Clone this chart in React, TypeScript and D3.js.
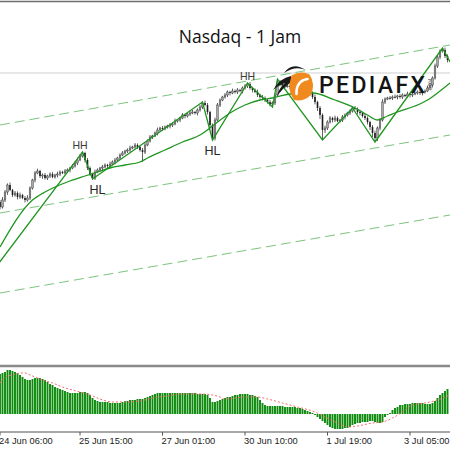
import React from 'react';
import * as d3 from 'd3';

const W = 450;
const H = 450;

// ---- price data (Nasdaq, 1 hour bars) ----
const firstOpen = 21990;
const closes = [
  21965, 22000, 22040, 22075, 22050, 22025, 22035, 22015, 22025, 22010,
  22000, 22010, 22060, 22100, 22135, 22145, 22120, 22125, 22110, 22120,
  22130, 22115, 22125, 22130, 22140, 22135, 22145, 22150, 22160, 22170,
  22185, 22200, 22220, 22235, 22200, 22160, 22130, 22110, 22140, 22150,
  22160, 22165, 22175, 22170, 22180, 22190, 22200, 22210, 22225, 22235,
  22245, 22250, 22260, 22265, 22275, 22265, 22250, 22240, 22275, 22295,
  22315, 22320, 22335, 22350, 22360, 22355, 22365, 22370, 22375, 22380,
  22395, 22400, 22410, 22425, 22420, 22430, 22435, 22440, 22435, 22450,
  22465, 22485, 22475, 22440, 22375, 22310, 22400, 22475, 22500, 22515,
  22525, 22540, 22535, 22545, 22540, 22550, 22545, 22560, 22570, 22580,
  22560, 22550, 22540, 22525, 22515, 22510, 22500, 22490, 22480, 22485,
  22525, 22590, 22580, 22575, 22570, 22570, 22565, 22560, 22565, 22555,
  22550, 22550, 22545, 22540, 22535, 22515, 22490, 22460, 22425, 22350,
  22360, 22390, 22410, 22400, 22410, 22395, 22400, 22415, 22425, 22435,
  22445, 22460, 22455, 22440, 22435, 22420, 22410, 22390, 22365, 22335,
  22310, 22360, 22400, 22490, 22505, 22510, 22510, 22515, 22515, 22520,
  22515, 22525, 22520, 22530, 22525, 22530, 22535, 22540, 22535, 22540,
  22545, 22560, 22575, 22610, 22670, 22715, 22745, 22750, 22720, 22700,
];
const wickUp = [
  10, 15, 10, 8, 12, 6, 10, 8, 12, 6, 10, 14, 8, 6, 10, 12, 6, 8, 10, 6,
  8, 10, 6, 12, 8, 6, 10, 8, 6, 10, 8, 12, 10, 8, 6, 10, 8, 6, 12, 8,
  6, 10, 8, 6, 12, 8, 10, 6, 8, 10, 6, 8, 12, 6, 10, 8, 6, 10, 12, 8,
  10, 6, 8, 12, 6, 10, 8, 6, 10, 8, 12, 6, 8, 10, 6, 8, 12, 10, 6, 8,
  10, 8, 12, 10, 6, 8, 12, 10, 8, 6, 10, 8, 6, 12, 8, 10, 6, 8, 10, 8,
  10, 6, 8, 12, 6, 10, 8, 6, 10, 8, 10, 15, 8, 10, 6, 8, 12, 6, 10, 8,
  6, 10, 8, 6, 10, 8, 12, 6, 10, 8, 12, 8, 10, 6, 12, 8, 6, 10, 8, 6,
  8, 6, 10, 8, 12, 6, 10, 8, 6, 10, 12, 8, 10, 14, 8, 6, 10, 8, 12, 6,
  10, 8, 6, 12, 8, 10, 6, 8, 10, 6, 8, 12, 10, 8, 12, 10, 8, 10, 12, 8,
];
const wickDn = [
  12, 8, 10, 14, 6, 10, 8, 12, 10, 6, 12, 8, 10, 8, 12, 6, 10, 14, 8, 10,
  10, 6, 8, 12, 10, 6, 8, 10, 12, 6, 8, 10, 6, 8, 12, 10, 8, 8, 10, 6,
  8, 12, 6, 10, 8, 6, 12, 8, 10, 6, 8, 10, 12, 6, 8, 10, 8, 50, 10, 6,
  8, 10, 6, 12, 8, 10, 6, 8, 12, 10, 6, 8, 10, 6, 12, 8, 10, 6, 8, 12,
  8, 10, 6, 12, 15, 10, 12, 8, 10, 6, 8, 10, 12, 6, 8, 10, 6, 12, 8, 10,
  8, 12, 6, 10, 8, 12, 10, 8, 12, 20, 10, 8, 12, 6, 10, 8, 10, 6, 12, 8,
  10, 8, 6, 12, 8, 10, 12, 15, 20, 50, 15, 10, 8, 12, 10, 6, 8, 10, 12, 8,
  10, 8, 6, 10, 12, 8, 10, 12, 15, 20, 20, 15, 12, 8, 10, 6, 8, 10, 6, 12,
  8, 10, 6, 8, 12, 10, 6, 8, 10, 12, 8, 6, 10, 12, 8, 10, 12, 8, 10, 12,
];

// ZigZag pivots (bar index, price)
const zzIdx = [-4, 33, 37, 81, 85, 99, 109, 111, 129, 141, 150, 177, 180];
const zzVal = [21625, 22240, 22105, 22490, 22300, 22585, 22465, 22605, 22300, 22460, 22290, 22760, 22690];

// Moving average (bar index, price)
const maIdx = [0, 13, 18, 22, 28, 34, 39, 44, 50, 56, 59, 66, 73, 80, 85, 92, 98, 104, 109, 116, 125, 134, 142, 147, 151, 155, 159, 166, 171, 175, 180];
const maVal = [21765, 22000, 22040, 22065, 22095, 22120, 22140, 22160, 22175, 22190, 22210, 22250, 22290, 22325, 22370, 22435, 22475, 22500, 22510, 22530, 22535, 22500, 22460, 22425, 22400, 22420, 22440, 22470, 22500, 22535, 22585];

// Channel lines (start / end bar index, prices)
const channelIdx = [0, 180];
const channelTop = [22375, 22775];
const channelMid = [21935, 22325];
const channelBot = [21535, 21925];
const hLinePrice = 22635;

// Swing labels
const swingText = ['HH', 'HL', 'HL', 'HH'];
const swingIdx = [32, 39, 85, 99];
const swingVal = [22240, 22105, 22300, 22585];
const swingAbove = [true, false, false, true];

// Oscillator histogram
const hist = [
  80, 82, 84, 88, 88, 86, 84, 82, 78, 74, 70, 68, 68, 70, 72, 72, 72, 70, 68, 64,
  60, 58, 54, 52, 50, 48, 46, 44, 42, 42, 42, 42, 44, 44, 44, 42, 38, 32, 28, 26,
  24, 24, 24, 24, 22, 22, 22, 22, 22, 24, 26, 26, 28, 28, 28, 30, 30, 30, 32, 34,
  36, 38, 40, 42, 42, 42, 42, 42, 42, 42, 42, 42, 42, 42, 42, 42, 42, 42, 42, 40,
  40, 40, 40, 38, 32, 24, 24, 26, 28, 30, 32, 34, 34, 36, 38, 38, 40, 40, 40, 40,
  38, 38, 36, 34, 28, 22, 18, 16, 16, 16, 16, 16, 16, 16, 14, 14, 14, 14, 14, 12,
  12, 10, 8, 6, 4, 2, -2, -6, -10, -14, -18, -22, -26, -28, -30, -30, -30, -30, -28, -28,
  -26, -22, -20, -18, -18, -16, -16, -16, -14, -14, -16, -18, -18, -16, -6, -2, 2, 8, 12, 14,
  18, 18, 20, 20, 20, 22, 22, 22, 22, 22, 20, 20, 20, 22, 26, 32, 38, 42, 46, 50,
];
const sigIdx = [0, 3, 5, 8, 10, 12, 15, 17, 21, 25, 29, 32, 36, 40, 45, 51, 56, 61, 67, 72, 80, 85, 88, 90, 98, 103, 107, 113, 119, 126, 130, 135, 139, 143, 149, 153, 157, 161, 165, 170, 175, 178, 180];
const sigVal = [62, 76, 78, 82, 82, 78, 72, 68, 62, 54, 48, 44, 38, 30, 24, 24, 26, 32, 36, 40, 40, 38, 34, 30, 34, 34, 30, 22, 14, 4, -6, -18, -26, -24, -18, -16, -8, 4, 18, 22, 28, 34, 38];

// Time axis
const tickIdx = [0, 32, 65, 98, 131, 164];
const tickLabels = ['24 Jun 06:00', '25 Jun 15:00', '27 Jun 01:00', '30 Jun 10:00', '1 Jul 19:00', '3 Jul 05:00'];

const title = 'Nasdaq - 1 Jam';

export default function App() {
  const x = d3.scaleLinear().domain([0, 180]).range([0, 450]);
  const y = d3.scaleLinear().domain([21175, 23000]).range([365, 0]);
  const yh = d3.scaleLinear().domain([-34, 94]).range([431, 367]);

  const pairLine = d3.line<[number, number]>().x((d) => x(d[0])).y((d) => y(d[1]));
  const smoothLine = d3
    .line<[number, number]>()
    .x((d) => x(d[0]))
    .y((d) => y(d[1]))
    .curve(d3.curveMonotoneX);
  const sigLine = d3
    .line<[number, number]>()
    .x((d) => x(d[0]))
    .y((d) => yh(d[1]))
    .curve(d3.curveMonotoneX);

  const zz = pairLine(zzIdx.map((d, i) => [d, zzVal[i]] as [number, number]));
  const ma = smoothLine(maIdx.map((d, i) => [d, maVal[i]] as [number, number]));
  const sig = sigLine(sigIdx.map((d, i) => [d, sigVal[i]] as [number, number]));
  const channels = [channelTop, channelMid, channelBot].map((c) =>
    pairLine(channelIdx.map((d, i) => [d, c[i]] as [number, number]))
  );

  const candles = closes.map((c, i) => {
    const o = i === 0 ? firstOpen : closes[i - 1];
    const hi = Math.max(o, c) + wickUp[i];
    const lo = Math.min(o, c) - wickDn[i];
    return { i, o, c, hi, lo };
  });

  const lastTick = tickIdx.length - 1;

  return (
    <div style={{ position: 'absolute', left: 0, top: 0, width: W, height: H, background: '#fff' }}>
      <svg width={W} height={H} viewBox={`0 0 ${W} ${H}`} style={{ display: 'block' }}>
        <defs>
          <clipPath id="mainClip">
            <rect x={0} y={3} width={450} height={362} />
          </clipPath>
          <clipPath id="histClip">
            <rect x={0} y={367.5} width={450} height={63} />
          </clipPath>
        </defs>
        <rect x={0} y={0} width={W} height={H} fill="#fff" />

        {/* frame */}
        <line x1={0} x2={450} y1={1.5} y2={1.5} stroke="#6e6e6e" strokeWidth={1.5} />

        <g clipPath="url(#mainClip)">
          <line x1={0} x2={450} y1={y(hLinePrice)} y2={y(hLinePrice)} stroke="#cfcfcf" strokeWidth={1} />
          {channels.map((p, k) => (
            <path key={k} d={p || ''} fill="none" stroke="#7cc47c" strokeWidth={1} strokeDasharray="10,5" />
          ))}
          {candles.map((d) => {
            const cx = x(d.i);
            const up = d.c >= d.o;
            const top = y(Math.max(d.o, d.c));
            const bot = y(Math.min(d.o, d.c));
            return (
              <g key={d.i}>
                <line x1={cx} x2={cx} y1={y(d.hi)} y2={y(d.lo)} stroke="#3a3a3a" strokeWidth={0.8} />
                <rect
                  x={cx - 0.8}
                  y={top}
                  width={1.6}
                  height={Math.max(0.8, bot - top)}
                  fill={up ? '#a8a8a8' : '#1c1c1c'}
                  stroke={up ? '#444' : 'none'}
                  strokeWidth={0.5}
                />
              </g>
            );
          })}
          <path d={ma || ''} fill="none" stroke="#1f951f" strokeWidth={1.3} />
          <path d={zz || ''} fill="none" stroke="#1f951f" strokeWidth={1.3} />
          {swingText.map((t, k) => (
            <text
              key={k}
              x={x(swingIdx[k])}
              y={y(swingVal[k]) + (swingAbove[k] ? -3 : 15)}
              textAnchor="middle"
              fontFamily="'Liberation Sans', Arial, sans-serif"
              fontSize={swingAbove[k] ? 10.5 : 12.5}
              fill={swingAbove[k] ? '#3a3a3a' : '#262626'}
            >
              {t}
            </text>
          ))}
        </g>

        {/* watermark logo */}
        <g>
          <path d="M284,73 Q292,61 306,70 Q295,65.5 284,73 Z" fill="#1a1a1a" />
          <path d="M291,76 Q280,78 273,90 Q279,85 285,83 Q279,88 277,96 Q283,88 291,82 Z" fill="#1a1a1a" />
          <path d="M291.5,75.5 Q301,70 309.5,74.5 Q316,84 310.5,95.5 Q303,102 294,100 Q288.5,92 289.5,84 Z" fill="#f08a1e" />
          <path d="M296.5,94 Q296,81 307.5,79" fill="none" stroke="#fff" strokeWidth={2.6} strokeLinecap="round" />
          <text
            x={319}
            y={93}
            fontFamily="Roboto, 'Liberation Sans', sans-serif"
            fontWeight={500}
            fontSize={23}
            textLength={106}
            lengthAdjust="spacing"
            fill="#141414"
          >
            PEDIAFX
          </text>
          <text
            x={0}
            y={0}
            transform="translate(432,92) rotate(-90)"
            fontFamily="'Liberation Sans', sans-serif"
            fontSize={5}
            fill="#555"
          >
            .COM
          </text>
        </g>

        {/* title */}
        <text
          x={240}
          y={43}
          textAnchor="middle"
          fontFamily="'Open Sans', sans-serif"
          fontSize={17.5}
          fill="#111"
        >
          {title}
        </text>

        {/* oscillator panel */}
        <line x1={0} x2={450} y1={366} y2={366} stroke="#8a8a8a" strokeWidth={2.5} />
        <g clipPath="url(#histClip)">
          {hist.map((v, i) => (
            <rect
              key={i}
              x={x(i) - 0.95}
              y={yh(Math.max(0, v))}
              width={1.9}
              height={Math.abs(yh(v) - yh(0))}
              fill="#0c8a0c"
            />
          ))}
          <path d={sig || ''} fill="none" stroke="#f26b6b" strokeWidth={1} strokeDasharray="2,2" />
        </g>
        <line x1={0} x2={450} y1={432} y2={432} stroke="#8a8a8a" strokeWidth={1.5} />

        {/* time axis */}
        {tickIdx.map((t, k) => (
          <g key={k}>
            <line x1={x(t)} x2={x(t)} y1={432} y2={435.5} stroke="#555" strokeWidth={1} />
            <text
              x={k === lastTick ? 449.5 : x(t) - 1}
              y={444}
              textAnchor={k === lastTick ? 'end' : 'start'}
              fontFamily="'Liberation Sans', Arial, sans-serif"
              fontSize={9.3}
              fill="#222"
            >
              {tickLabels[k]}
            </text>
          </g>
        ))}
      </svg>
    </div>
  );
}
